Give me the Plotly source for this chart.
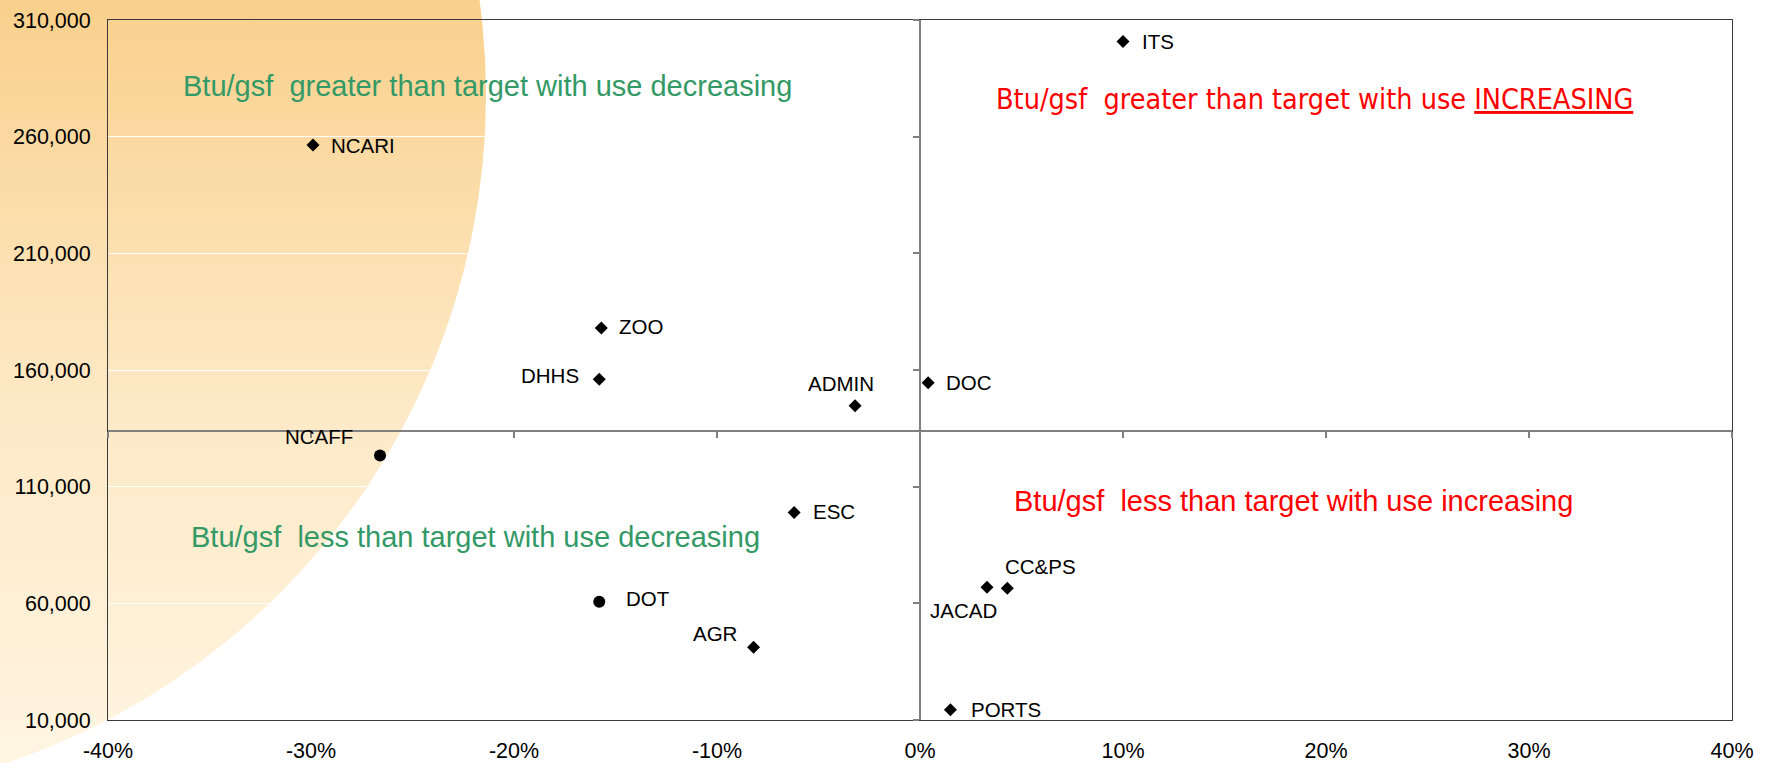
import base64
import plotly.graph_objects as go

# ---------------- data ----------------
diamond_names = ["ITS", "NCARI", "ZOO", "DHHS", "ADMIN", "DOC", "ESC", "AGR", "JACAD", "CC&PS", "PORTS"]
diamond_x = [0.100, -0.299, -0.157, -0.158, -0.032, 0.004, -0.062, -0.082, 0.033, 0.043, 0.015]
diamond_y = [300800, 256400, 178000, 156000, 144700, 154500, 98900, 41200, 66900, 66500, 14400]

circle_names = ["NCAFF", "DOT"]
circle_x = [-0.266, -0.158]
circle_y = [123400, 60700]

target_y = 134000

x_tickvals = [-0.4, -0.3, -0.2, -0.1, 0.0, 0.1, 0.2, 0.3, 0.4]
x_ticktext = ["-40%", "-30%", "-20%", "-10%", "0%", "10%", "20%", "30%", "40%"]
y_tickvals = [10000, 60000, 110000, 160000, 210000, 260000, 310000]
y_ticktext = ["10,000", "60,000", "110,000", "160,000", "210,000", "260,000", "310,000"]

quad_text = [
    "Btu/gsf\u00a0 greater than target with use decreasing",
    "Btu/gsf\u00a0 greater than target with use <u>INCREASING</u>",
    "Btu/gsf\u00a0 less than target with use decreasing",
    "Btu/gsf\u00a0 less than target with use increasing",
]
quad_x = [-0.213, 0.1945, -0.219, 0.184]
quad_y = [281600, 275800, 88450, 103900]

# label placement (style): anchor, xshift, yshift
label_style = {
    "ITS": ("left", 17, 0), "NCARI": ("left", 16, 0), "ZOO": ("left", 16, 2),
    "DHHS": ("right", -18, 4), "ADMIN": ("center", -14, 22), "DOC": ("left", 16, 0),
    "ESC": ("left", 17, 1), "AGR": ("right", -15, 14), "JACAD": ("center", -23, -23),
    "CC&PS": ("center", 33, 22), "PORTS": ("left", 19, 0),
    "NCAFF": ("right", -25, 19), "DOT": ("left", 25, 3),
}

W, H = 1769, 763
ML, MR, MT, MB = 108, 37, 20, 43
PW, PH = W - ML - MR, H - MT - MB

# ---------------- background decoration (orange disc, slide backdrop) ----------------
svg = (
    "<svg xmlns='http://www.w3.org/2000/svg' width='%d' height='%d' viewBox='0 0 %d %d' "
    "preserveAspectRatio='none'>"
    "<defs><linearGradient id='g' gradientUnits='userSpaceOnUse' x1='0' y1='0' x2='0' y2='%d'>"
    "<stop offset='0' stop-color='#F9D08C'/>"
    "<stop offset='0.33' stop-color='#FCE0B1'/>"
    "<stop offset='0.53' stop-color='#FDE9C6'/>"
    "<stop offset='1' stop-color='#FFF5E1'/>"
    "</linearGradient></defs>"
    "<circle cx='-219' cy='95' r='705' fill='url(#g)'/></svg>" % (W, H, W, H, H)
)
svg_uri = "data:image/svg+xml;base64," + base64.b64encode(svg.encode()).decode()

# ---------------- figure ----------------
fig = go.Figure()
fig.add_trace(go.Scatter(
    x=diamond_x, y=diamond_y, mode="markers", text=diamond_names,
    marker=dict(symbol="diamond", size=10, color="black"),
    showlegend=False, hoverinfo="text",
))
fig.add_trace(go.Scatter(
    x=circle_x, y=circle_y, mode="markers", text=circle_names,
    marker=dict(symbol="circle", size=12, color="black"),
    showlegend=False, hoverinfo="text",
))
fig.add_trace(go.Scatter(x=[None], y=[None], xaxis="x2", yaxis="y2",
                         showlegend=False, hoverinfo="skip"))

label_font = dict(family="Liberation Sans, Arial, sans-serif", size=20.5, color="black")
annotations = []
for names, xs, ys in [(diamond_names, diamond_x, diamond_y), (circle_names, circle_x, circle_y)]:
    for n, xv, yv in zip(names, xs, ys):
        anc, xs_, ys_ = label_style[n]
        annotations.append(dict(x=xv, y=yv, xref="x", yref="y", text=n, showarrow=False,
                                xanchor=anc, yanchor="middle", xshift=xs_, yshift=ys_,
                                font=label_font))

quad_colors = ["#339966", "#FF0000", "#339966", "#FF0000"]
quad_fonts = ["Liberation Sans, Arial, sans-serif",
              "Liberation Sans Narrow, Arial Narrow, DejaVu Sans Condensed, sans-serif",
              "Liberation Sans, Arial, sans-serif",
              "Liberation Sans, Arial, sans-serif"]
quad_sizes = [29, 28.5, 29, 29]
for t, xv, yv, c, f, s in zip(quad_text, quad_x, quad_y, quad_colors, quad_fonts, quad_sizes):
    annotations.append(dict(x=xv, y=yv, xref="x", yref="y", text=t, showarrow=False,
                            xanchor="center", yanchor="middle",
                            font=dict(family=f, size=s, color=c)))

tick_font = dict(family="Liberation Sans, Arial, sans-serif", size=21.5, color="black")
xr = [-0.4, 0.4]
yr = [10000, 310000]
fig.update_layout(
    width=W, height=H,
    margin=dict(l=ML, r=MR, t=MT, b=MB, pad=0, autoexpand=False),
    paper_bgcolor="white", plot_bgcolor="rgba(0,0,0,0)",
    annotations=annotations,
    images=[dict(source=svg_uri, xref="paper", yref="paper",
                 x=-ML / PW, y=1 + MT / PH, sizex=W / PW, sizey=H / PH,
                 xanchor="left", yanchor="top", sizing="stretch", layer="below")],
    xaxis=dict(range=xr, tickvals=x_tickvals, ticktext=x_ticktext, tickfont=tick_font,
               showgrid=False, zeroline=False, showline=True, mirror=True, automargin=False,
               linecolor="#3a3a3a", linewidth=1, ticks="", ticklabelstandoff=11),
    yaxis=dict(range=yr, tickvals=y_tickvals, ticktext=y_ticktext, tickfont=tick_font,
               showgrid=True, gridcolor="white", gridwidth=1, zeroline=False, automargin=False,
               showline=True, mirror=True, linecolor="#3a3a3a", linewidth=1,
               ticks="", ticklabelstandoff=12),
    xaxis2=dict(range=xr, overlaying="x", anchor="free", automargin=False,
                position=(target_y - yr[0]) / (yr[1] - yr[0]),
                tickvals=x_tickvals, showticklabels=False, showgrid=False, zeroline=False,
                showline=True, linecolor="#808080", linewidth=2,
                ticks="outside", ticklen=6, tickwidth=1.5, tickcolor="#808080"),
    yaxis2=dict(range=yr, overlaying="y", anchor="free", automargin=False,
                position=(0 - xr[0]) / (xr[1] - xr[0]), side="left",
                tickvals=y_tickvals, showticklabels=False, showgrid=False, zeroline=False,
                showline=True, linecolor="#808080", linewidth=2,
                ticks="outside", ticklen=6, tickwidth=1.5, tickcolor="#808080"),
)

fig.write_html("out.html", config={"displayModeBar": False},
               post_script="document.body.style.margin='0';document.body.style.overflow='hidden';")
